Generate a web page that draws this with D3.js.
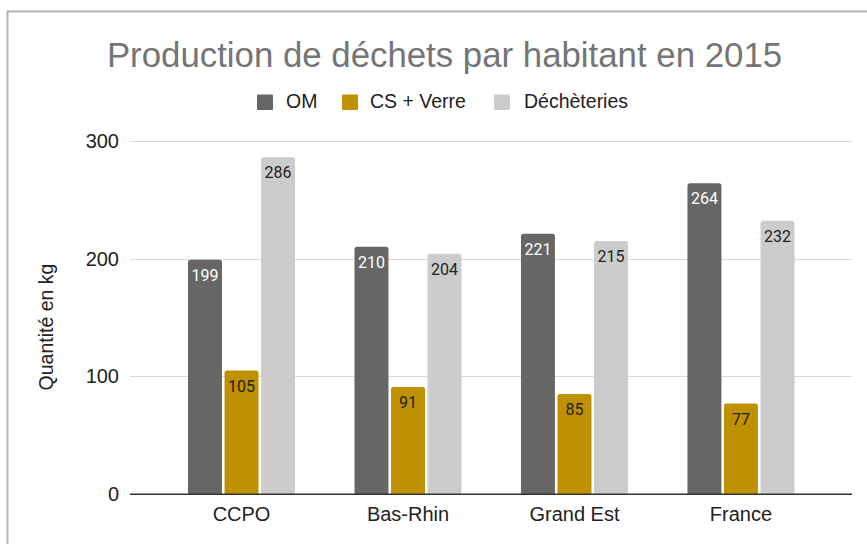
<!DOCTYPE html>
<html><head><meta charset="utf-8">
<script src="https://cdn.jsdelivr.net/npm/d3@7"></script>
<style>html,body{margin:0;padding:0;background:#fff;}svg{display:block;}</style>
</head><body>
<script>
const categories = ["CCPO", "Bas-Rhin", "Grand Est", "France"];
const seriesNames = ["OM", "CS + Verre", "Déchèteries"];
const omValues = [199, 210, 221, 264];
const csVerreValues = [105, 91, 85, 77];
const dechValues = [286, 204, 215, 232];
const yTicks = [0, 100, 200, 300];
const colors = ["#666666", "#bf9000", "#cccccc"];
const labelColors = ["#ffffff", "#222222", "#222222"];

const W = 867, H = 544;
const svg = d3.select("body").append("svg").attr("width", W).attr("height", H);
svg.append("rect").attr("width", W).attr("height", H).attr("fill", "#fff");

// frame
svg.append("path").attr("d", `M7.5,${H+5} L7.5,11.5 L${W+5},11.5`)
  .attr("fill", "none").attr("stroke", "#b4b4b4").attr("stroke-width", 2);

const y = d3.scaleLinear().domain([0, 300]).range([494.3, 140.7]);
const gridX0 = 130, gridX1 = 852;
const x = d3.scaleBand().domain(categories).range([188, 794.5]).paddingInner(0.357).paddingOuter(0);
const xs = d3.scaleBand().domain(seriesNames).range([0, x.bandwidth()]).paddingInner(0.07);

// gridlines
svg.append("g").selectAll("line").data(yTicks.filter(d => d > 0)).join("line")
  .attr("x1", gridX0).attr("x2", gridX1)
  .attr("y1", d => Math.round(y(d)) + 0.5).attr("y2", d => Math.round(y(d)) + 0.5)
  .attr("stroke", "#d9d9d9").attr("stroke-width", 1);

// y tick labels
svg.append("g").selectAll("text").data(yTicks).join("text")
  .attr("x", 119).attr("y", d => y(d) + 7)
  .attr("text-anchor", "end")
  .attr("font-family", "'Liberation Sans', Arial, sans-serif").attr("font-size", 20)
  .attr("fill", "#222").text(d => d);

// y axis title
svg.append("text")
  .attr("transform", "translate(53,327) rotate(-90)")
  .attr("text-anchor", "middle")
  .attr("font-family", "'Liberation Sans', Arial, sans-serif").attr("font-size", 19.5)
  .attr("fill", "#222").text("Quantité en kg");

const series = [omValues, csVerreValues, dechValues];
const rows = [];
categories.forEach((c, i) => series.forEach((s, j) => rows.push({cat: c, s: seriesNames[j], j, v: s[i]})));

function topRounded(x0, y0, w, h, r) {
  return `M${x0},${y0 + h} L${x0},${y0 + r} Q${x0},${y0} ${x0 + r},${y0} L${x0 + w - r},${y0} Q${x0 + w},${y0} ${x0 + w},${y0 + r} L${x0 + w},${y0 + h} Z`;
}

svg.append("g").selectAll("path").data(rows).join("path")
  .attr("d", d => {
    const x0 = x(d.cat) + xs(d.s);
    return topRounded(x0, y(d.v), xs.bandwidth(), y(0) - y(d.v), 2.5);
  })
  .attr("fill", d => colors[d.j]);

svg.append("g").selectAll("text").data(rows).join("text")
  .attr("x", d => x(d.cat) + xs(d.s) + xs.bandwidth() / 2)
  .attr("y", d => y(d.v) + 21)
  .attr("text-anchor", "middle")
  .attr("font-family", "Roboto, sans-serif").attr("font-size", 16)
  .attr("fill", d => labelColors[d.j]).text(d => d.v);

// baseline
svg.append("line").attr("x1", gridX0).attr("x2", gridX1)
  .attr("y1", 494.3).attr("y2", 494.3).attr("stroke", "#333").attr("stroke-width", 1.5);

// x labels
svg.append("g").selectAll("text").data(categories).join("text")
  .attr("x", d => x(d) + x.bandwidth() / 2).attr("y", 521)
  .attr("text-anchor", "middle")
  .attr("font-family", "'Liberation Sans', Arial, sans-serif").attr("font-size", 20)
  .attr("fill", "#222").text(d => d);

// title
svg.append("text").attr("x", 444.5).attr("y", 67).attr("text-anchor", "middle")
  .attr("font-family", "'Liberation Sans', Arial, sans-serif").attr("font-size", 34.8)
  .attr("fill", "#757575").text("Production de déchets par habitant en 2015");

// legend
const legendX = [257, 342, 494];
const lg = svg.append("g").selectAll("g").data(seriesNames).join("g")
  .attr("transform", (d, i) => `translate(${legendX[i]},0)`);
lg.append("rect").attr("x", 0).attr("y", 94.5).attr("width", 16).attr("height", 15.5)
  .attr("rx", 1).attr("fill", (d, i) => colors[i]);
lg.append("text").attr("x", (d, i) => [29, 28, 30][i]).attr("y", 108.3)
  .attr("font-family", "'Liberation Sans', Arial, sans-serif").attr("font-size", 19.5)
  .attr("fill", "#222").text(d => d);
</script>
</body></html>
